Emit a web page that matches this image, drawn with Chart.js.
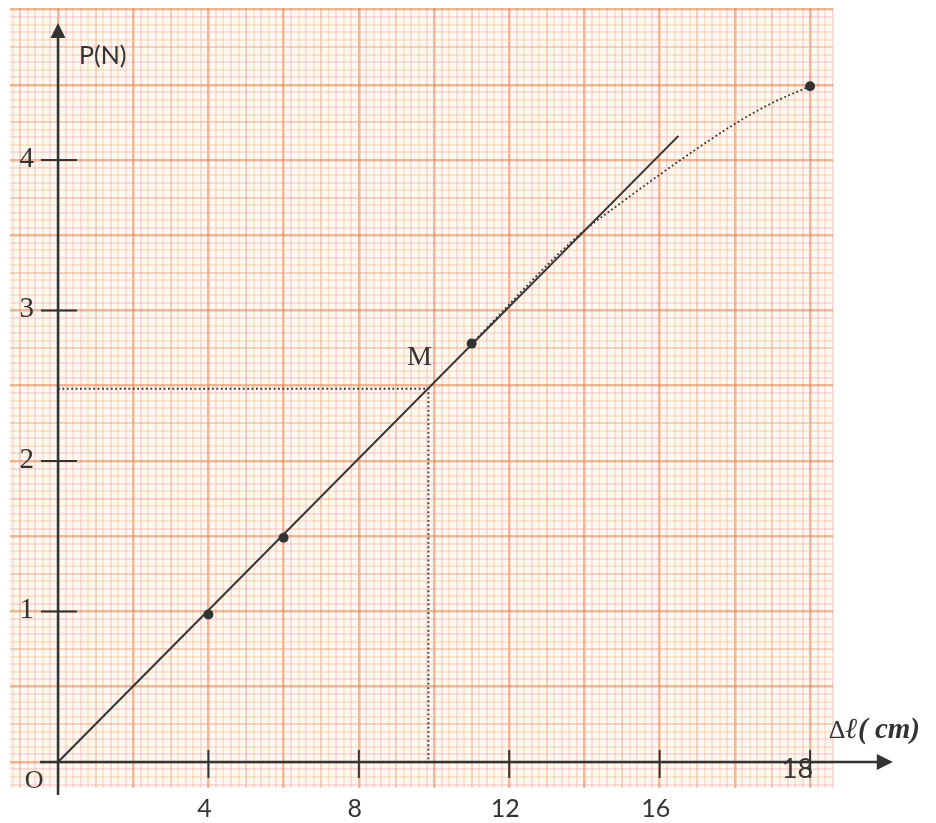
<!DOCTYPE html>
<html>
<head>
<meta charset="utf-8">
<script src="https://cdn.jsdelivr.net/npm/chart.js@4.4.0/dist/chart.umd.min.js"></script>
<style>
  html, body { margin: 0; padding: 0; background: #fff; }
  #wrap { width: 936px; height: 823px; position: relative; }
</style>
</head>
<body>
<div id="wrap"><canvas id="graph"></canvas></div>
<script>
// measured points (elongation in cm, weight in N)
const pointsX = [4, 6, 11, 20];
const pointsY = [0.98, 1.49, 2.78, 4.49];

// straight line through the origin
const lineX = [0, 16.5];
const lineY = [0, 4.16];

// dotted curve once the spring stops being linear
const curveX = [11, 13.8, 15, 16.5, 18, 19, 20];
const curveY = [2.78, 3.49, 3.72, 3.99, 4.24, 4.38, 4.49];

// point M
const mX = 9.85;
const mY = 2.48;

const xTickValues = [4, 8, 12, 16, 20];
const xTickLabels = ['4', '8', '12', '16', '18'];
const yTickValues = [1, 2, 3, 4];
const yTickLabels = ['1', '2', '3', '4'];

const ink = '#333';

function zip(xs, ys) {
    return xs.map((x, i) => ({ x: x, y: ys[i] }));
}

// graph paper colours: 1 mm lines, 5 mm lines, 1 cm lines
function paperColor(k) {
    if (k % 10 === 0) return 'rgba(226,132,80,0.55)';
    if (k % 5 === 0) return 'rgba(234,158,120,0.42)';
    return k % 2 ? 'rgba(240,160,160,0.3)' : 'rgba(244,190,130,0.32)';
}
function paperWidth(k) {
    if (k % 10 === 0) return 2.5;
    return 2;
}

const paperPlugin = {
    id: 'paper',
    beforeDraw(chart) {
        const { ctx, chartArea: a } = chart;
        ctx.save();
        ctx.fillStyle = '#fef8f3';
        ctx.fillRect(a.left, a.top, a.right - a.left, a.bottom - a.top);
        ctx.restore();
    }
};

const axesPlugin = {
    id: 'axes',
    afterDraw(chart) {
        const { ctx } = chart;
        const xs = chart.scales.x, ys = chart.scales.y;
        const px = xs.getPixelForValue(0), py = ys.getPixelForValue(0);
        ctx.save();
        ctx.strokeStyle = ink;
        ctx.fillStyle = ink;
        ctx.lineWidth = 2.5;

        // vertical axis + arrow
        const yTop = ys.getPixelForValue(4.91);
        ctx.beginPath();
        ctx.moveTo(px, ys.getPixelForValue(-0.22));
        ctx.lineTo(px, yTop + 12);
        ctx.stroke();
        ctx.beginPath();
        ctx.moveTo(px, yTop);
        ctx.lineTo(px - 7.5, yTop + 15);
        ctx.lineTo(px + 7.5, yTop + 15);
        ctx.closePath();
        ctx.fill();

        // horizontal axis + arrow
        const xEnd = xs.getPixelForValue(22.2);
        ctx.beginPath();
        ctx.moveTo(xs.getPixelForValue(-0.48), py);
        ctx.lineTo(xEnd - 12, py);
        ctx.stroke();
        ctx.beginPath();
        ctx.moveTo(xEnd, py);
        ctx.lineTo(xEnd - 16, py - 8);
        ctx.lineTo(xEnd - 16, py + 8);
        ctx.closePath();
        ctx.fill();

        // tick marks
        ctx.lineWidth = 2;
        yTickValues.forEach(v => {
            const y = ys.getPixelForValue(v);
            ctx.beginPath();
            ctx.moveTo(px - 17, y);
            ctx.lineTo(px + 19, y);
            ctx.stroke();
        });
        xTickValues.forEach(v => {
            const x = xs.getPixelForValue(v);
            ctx.beginPath();
            ctx.moveTo(x, py - 12);
            ctx.lineTo(x, py + 16);
            ctx.stroke();
        });

        // tick labels
        ctx.font = '29px "Liberation Serif"';
        ctx.textAlign = 'right';
        ctx.textBaseline = 'middle';
        yTickValues.forEach((v, i) => {
            ctx.fillText(yTickLabels[i], px - 24, ys.getPixelForValue(v) - 1);
        });

        ctx.font = '25px Lato';
        ctx.textBaseline = 'alphabetic';
        xTickValues.forEach((v, i) => {
            const x = xs.getPixelForValue(v);
            if (i === xTickValues.length - 1) {
                ctx.font = '27px Lato';
                ctx.textAlign = 'right';
                ctx.fillText(xTickLabels[i], x + 3, py + 16);
            } else {
                ctx.textAlign = 'center';
                ctx.fillText(xTickLabels[i], x - 4, py + 55);
            }
        });

        // names
        ctx.font = '26px "Liberation Serif"';
        ctx.textAlign = 'center';
        ctx.fillText('O', px - 24, py + 26);

        ctx.font = '25px Lato';
        ctx.textAlign = 'left';
        ctx.fillText('P(N)', px + 21, ys.getPixelForValue(4.64));

        ctx.font = '28px "Liberation Serif"';
        ctx.textAlign = 'center';
        ctx.fillText('M', xs.getPixelForValue(mX) - 9, ys.getPixelForValue(mY) - 24);

        // axis name: upright delta, then bold italic l(cm)
        let tx = xs.getPixelForValue(20.5);
        const ty = py - 24;
        ctx.textAlign = 'left';
        ctx.font = '26px "Liberation Serif"';
        ctx.fillText('\u0394', tx, ty);
        tx += ctx.measureText('\u0394').width;
        ctx.font = 'italic bold 29px "Liberation Serif"';
        ctx.fillText('\u2113( cm)', tx, ty);
        ctx.restore();
    }
};

new Chart(document.getElementById('graph'), {
    type: 'scatter',
    data: {
        datasets: [
            {
                label: 'droite',
                data: zip(lineX, lineY),
                showLine: true,
                borderColor: ink,
                borderWidth: 2,
                pointRadius: 0
            },
            {
                label: 'courbe',
                data: zip(curveX, curveY),
                showLine: true,
                borderColor: ink,
                borderWidth: 1.8,
                borderDash: [1.8, 2.6],
                cubicInterpolationMode: 'monotone',
                pointRadius: 0
            },
            {
                label: 'M',
                data: [{ x: 0, y: mY }, { x: mX, y: mY }, { x: mX, y: 0 }],
                showLine: true,
                borderColor: ink,
                borderWidth: 1.8,
                borderDash: [1.8, 2.6],
                pointRadius: 0
            },
            {
                label: 'mesures',
                data: zip(pointsX, pointsY),
                showLine: false,
                pointRadius: 5,
                pointBackgroundColor: ink,
                pointBorderWidth: 0
            }
        ]
    },
    options: {
        responsive: true,
        maintainAspectRatio: false,
        devicePixelRatio: 1,
        animation: false,
        layout: { padding: { left: 10, top: 8, right: 103, bottom: 35 } },
        plugins: {
            legend: { display: false },
            tooltip: { enabled: false }
        },
        scales: {
            x: {
                type: 'linear',
                min: -1.277,
                max: 20.61,
                afterBuildTicks: (scale) => {
                    const t = [];
                    for (let k = -6; k <= 103; k++) t.push({ value: k * 0.2 });
                    scale.ticks = t;
                },
                ticks: { display: false },
                border: { display: false },
                grid: {
                    drawTicks: false,
                    color: (c) => paperColor(Math.round(c.tick.value / 0.2)),
                    lineWidth: (c) => paperWidth(Math.round(c.tick.value / 0.2))
                }
            },
            y: {
                type: 'linear',
                min: -0.173,
                max: 5.01,
                afterBuildTicks: (scale) => {
                    const t = [];
                    for (let k = -3; k <= 100; k++) t.push({ value: k * 0.05 });
                    scale.ticks = t;
                },
                ticks: { display: false },
                border: { display: false },
                grid: {
                    drawTicks: false,
                    color: (c) => paperColor(Math.round(c.tick.value / 0.05)),
                    lineWidth: (c) => paperWidth(Math.round(c.tick.value / 0.05))
                }
            }
        }
    },
    plugins: [paperPlugin, axesPlugin]
});
</script>
</body>
</html>
